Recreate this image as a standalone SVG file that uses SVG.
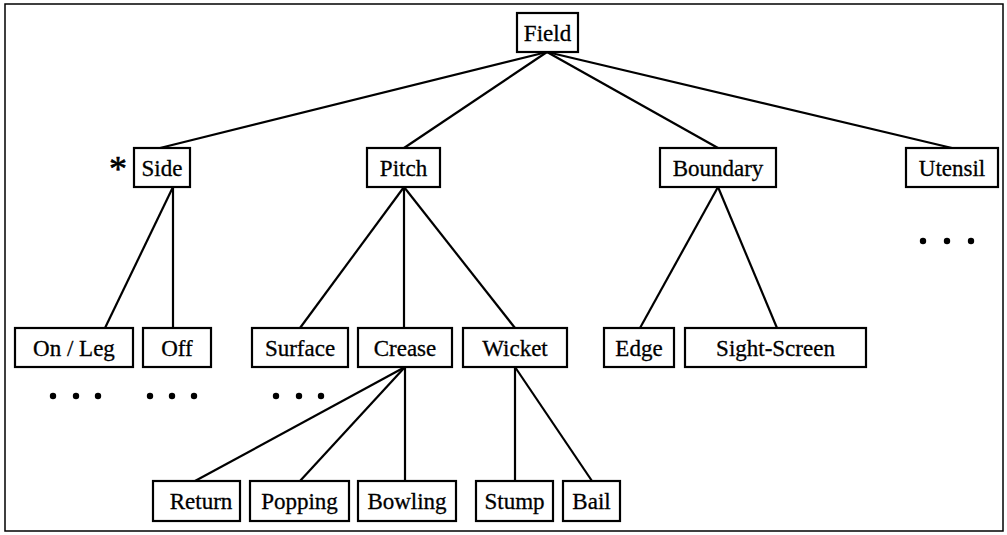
<svg xmlns="http://www.w3.org/2000/svg" width="1007" height="535" viewBox="0 0 1007 535">
<style>
.box{fill:#fff;stroke:#000;stroke-width:2.2}
.t{font-family:"Liberation Serif","Times New Roman",serif;font-size:23px;fill:#000;stroke:#000;stroke-width:0.3;text-anchor:middle}
.c line{stroke:#000;stroke-width:2.2}
.dot{fill:#000}
</style>
<rect x="0" y="0" width="1007" height="535" fill="#fff"/>
<rect x="5" y="4" width="998" height="527" fill="none" stroke="#000" stroke-width="1.5"/>
<g class="c" id="connectors">
<line x1="547" y1="52" x2="160" y2="148"/>
<line x1="547" y1="52" x2="404" y2="148"/>
<line x1="547" y1="52" x2="718" y2="148"/>
<line x1="547" y1="52" x2="952" y2="148"/>
<line x1="173" y1="187" x2="105" y2="328"/>
<line x1="173" y1="187" x2="173" y2="328"/>
<line x1="404" y1="187" x2="300" y2="328"/>
<line x1="404" y1="187" x2="404" y2="328"/>
<line x1="404" y1="187" x2="515" y2="328"/>
<line x1="718" y1="187" x2="640" y2="328"/>
<line x1="718" y1="187" x2="777" y2="328"/>
<line x1="405" y1="367" x2="195" y2="481"/>
<line x1="405" y1="367" x2="300" y2="481"/>
<line x1="405" y1="367" x2="405" y2="481"/>
<line x1="515" y1="367" x2="515" y2="481"/>
<line x1="515" y1="367" x2="592" y2="481"/>
</g>
<g id="field"><rect class="box" x="517" y="13" width="61" height="39"/><text class="t" x="547.5" y="40.5">Field</text></g>
<g id="side"><rect class="box" x="134" y="148" width="56" height="39"/><text class="t" x="162" y="175.5">Side</text></g>
<text x="118" y="181" font-family="Liberation Serif, serif" font-size="36" stroke="#000" stroke-width="0.6" text-anchor="middle">*</text>
<g id="pitch"><rect class="box" x="367" y="148" width="73" height="39"/><text class="t" x="403.5" y="175.5">Pitch</text></g>
<g id="boundary"><rect class="box" x="660" y="148" width="116" height="39"/><text class="t" x="718" y="175.5">Boundary</text></g>
<g id="utensil"><rect class="box" x="906" y="148" width="92" height="39"/><text class="t" x="952" y="175.5">Utensil</text></g>
<g id="onleg"><rect class="box" x="15" y="328" width="118" height="39"/><text class="t" x="74" y="355.5">On / Leg</text></g>
<g id="off"><rect class="box" x="143" y="328" width="68" height="39"/><text class="t" x="177" y="355.5">Off</text></g>
<g id="surface"><rect class="box" x="252" y="328" width="96" height="39"/><text class="t" x="300" y="355.5">Surface</text></g>
<g id="crease"><rect class="box" x="358" y="328" width="94" height="39"/><text class="t" x="405" y="355.5">Crease</text></g>
<g id="wicket"><rect class="box" x="463" y="328" width="104" height="39"/><text class="t" x="515" y="355.5">Wicket</text></g>
<g id="edge"><rect class="box" x="604" y="328" width="70" height="39"/><text class="t" x="639" y="355.5">Edge</text></g>
<g id="sightscreen"><rect class="box" x="685" y="328" width="181" height="39"/><text class="t" x="775.5" y="355.5">Sight-Screen</text></g>
<g id="return"><rect class="box" x="153" y="481" width="87" height="40"/><text class="t" x="201" y="509">Return</text></g>
<g id="popping"><rect class="box" x="250" y="481" width="99" height="40"/><text class="t" x="299.5" y="509">Popping</text></g>
<g id="bowling"><rect class="box" x="358" y="481" width="98" height="40"/><text class="t" x="407" y="509">Bowling</text></g>
<g id="stump"><rect class="box" x="476" y="481" width="77" height="40"/><text class="t" x="514.5" y="509">Stump</text></g>
<g id="bail"><rect class="box" x="563" y="481" width="57" height="40"/><text class="t" x="591.5" y="509">Bail</text></g>
<g id="ellipses">
<circle class="dot" cx="53" cy="396" r="3.2"/><circle class="dot" cx="76" cy="396" r="3.2"/><circle class="dot" cx="98" cy="396" r="3.2"/>
<circle class="dot" cx="150" cy="396" r="3.2"/><circle class="dot" cx="172" cy="396" r="3.2"/><circle class="dot" cx="194" cy="396" r="3.2"/>
<circle class="dot" cx="276" cy="396" r="3.2"/><circle class="dot" cx="299" cy="396" r="3.2"/><circle class="dot" cx="321" cy="396" r="3.2"/>
<circle class="dot" cx="923" cy="241" r="3.2"/><circle class="dot" cx="947" cy="241" r="3.2"/><circle class="dot" cx="971" cy="241" r="3.2"/>
</g>
</svg>
